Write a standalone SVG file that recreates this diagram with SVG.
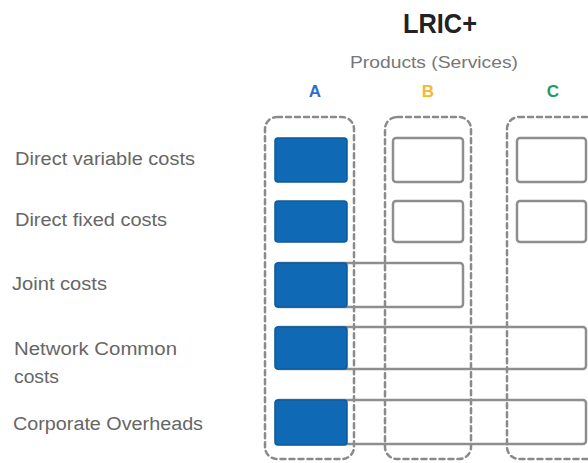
<svg xmlns="http://www.w3.org/2000/svg" width="588" height="463" viewBox="0 0 588 463">
<style>
.lbl{font-family:"Liberation Sans",Arial,sans-serif;font-size:18px;fill:#666}
.grp{fill:none;stroke:#8a8a8a;stroke-width:2.5;stroke-dasharray:5 4;stroke-linecap:round}
.cell{fill:none;stroke:#8e8e8e;stroke-width:2.5}
.blue{fill:#0f69b4;stroke:#0d5a9c;stroke-width:1.5}
.col{font-family:"Liberation Sans",Arial,sans-serif;font-size:17px;font-weight:bold;text-anchor:middle}
</style>
<rect width="588" height="463" fill="#ffffff"/>
<g id="title">
<text x="440" y="33" font-family="'Liberation Sans',Arial,sans-serif" font-size="28" font-weight="bold" fill="#222" text-anchor="middle" textLength="74" lengthAdjust="spacingAndGlyphs">LRIC+</text>
</g>
<g id="subtitle">
<text x="434" y="68" font-family="'Liberation Sans',Arial,sans-serif" font-size="17" fill="#777" text-anchor="middle" textLength="168" lengthAdjust="spacingAndGlyphs">Products (Services)</text>
</g>
<g id="col-A"><text class="col" x="315" y="97" fill="#2e6bd0">A</text></g>
<g id="col-B"><text class="col" x="428" y="97" fill="#f2b838">B</text></g>
<g id="col-C"><text class="col" x="553" y="97" fill="#1f9a6b">C</text></g>

<g id="group-A"><rect class="grp" x="265" y="117" width="89" height="342" rx="12"/></g>
<g id="group-B"><rect class="grp" x="385" y="117" width="86" height="342" rx="12"/></g>
<g id="group-C"><rect class="grp" x="507" y="117" width="110" height="342" rx="12"/></g>

<g id="row-direct-variable">
<text class="lbl" x="15" y="165" textLength="180" lengthAdjust="spacingAndGlyphs">Direct variable costs</text>
<rect class="cell" x="393" y="138" width="70" height="44" rx="3"/>
<rect class="cell" x="517" y="138" width="69" height="44" rx="3"/>
<rect class="blue" x="275" y="138" width="72" height="44" rx="3"/>
</g>
<g id="row-direct-fixed">
<text class="lbl" x="15" y="226" textLength="152" lengthAdjust="spacingAndGlyphs">Direct fixed costs</text>
<rect class="cell" x="393" y="201" width="70" height="41" rx="3"/>
<rect class="cell" x="517" y="201" width="69" height="41" rx="3"/>
<rect class="blue" x="275" y="201" width="72" height="41" rx="3"/>
</g>
<g id="row-joint">
<text class="lbl" x="12" y="290" textLength="95" lengthAdjust="spacingAndGlyphs">Joint costs</text>
<rect class="cell" x="276" y="263" width="187" height="44" rx="3"/>
<rect class="blue" x="275" y="263" width="72" height="44" rx="3"/>
</g>
<g id="row-network-common">
<text class="lbl" x="14" y="355" textLength="163" lengthAdjust="spacingAndGlyphs">Network Common</text>
<text class="lbl" x="14" y="383" textLength="45" lengthAdjust="spacingAndGlyphs">costs</text>
<rect class="cell" x="276" y="327" width="310" height="42" rx="3"/>
<rect class="blue" x="275" y="327" width="72" height="42" rx="3"/>
</g>
<g id="row-corporate-overheads">
<text class="lbl" x="13" y="430" textLength="190" lengthAdjust="spacingAndGlyphs">Corporate Overheads</text>
<rect class="cell" x="276" y="400" width="310" height="44" rx="3"/>
<rect class="blue" x="275" y="400" width="72" height="45" rx="3"/>
</g>
</svg>
